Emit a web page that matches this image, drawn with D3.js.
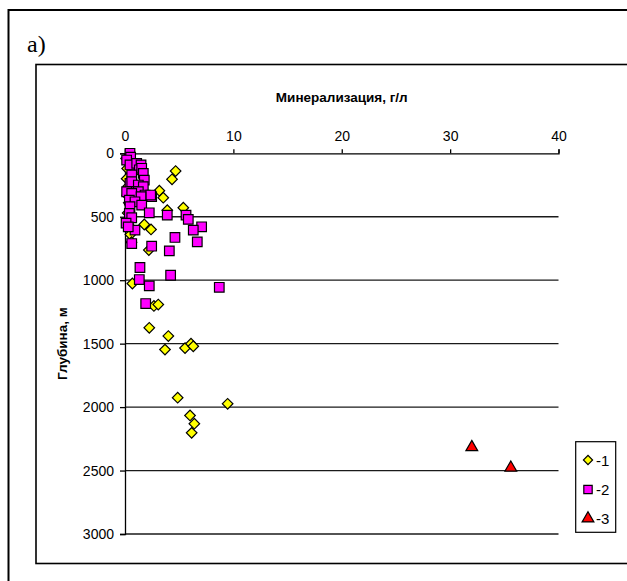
<!DOCTYPE html>
<html>
<head>
<meta charset="utf-8">
<script src="https://cdn.jsdelivr.net/npm/d3@7"></script>
<style>
  html, body { margin: 0; padding: 0; background: #fff; }
  svg { display: block; font-family: "Liberation Sans", Arial, sans-serif; }
</style>
</head>
<body>
<svg id="chart" width="627" height="581"></svg>
<script>
// Mineralization (g/l) and depth (m) for the three groups of samples
const mineral1 = [4.67, 4.34, 3.17, 3.53, 5.38, 3.9, 1.78, 2.4, 2.2, 0.68, 2.67, 3.07, 2.24, 4.0, 3.69, 5.54, 6.09, 6.3, 4.86, 9.47, 6.0, 6.4, 6.15,
                  0.1, 0.2, 0.15, 0.3, 0.2, 0.35, 0.25, 0.3, 0.5, 0.6];
const depth1   = [140, 205, 295, 350, 429, 448, 561, 600, 763, 1026, 1203, 1192, 1375, 1440, 1547, 1535, 1500, 1521, 1926, 1974, 2066, 2131, 2203,
                  40, 120, 200, 260, 330, 390, 470, 560, 640, 700];

const mineral2 = [0.46, 0.52, 0.15, 0.46, 1.08, 1.48, 1.32, 1.54, 0.62, 1.69, 1.78, 0.92, 0.46, 0.62, 1.23, 1.69, 0.77, 1.23, 0.15, 0.62,
                  1.85, 2.46, 2.37, 1.48, 0.4, 0.92, 1.54, 0.46, 0.4, 0.62, 0.92, 0.62, 2.24, 3.9, 5.63, 5.84, 7.07, 6.3,
                  6.67, 4.61, 4.09, 2.46, 1.38, 1.32, 2.24, 4.21, 1.91, 8.7, 0.1, 0.3];
const depth2   = [0, 30, 53, 92, 79, 92, 130, 118, 171, 158, 211, 250, 237, 224, 250, 263, 303, 303, 303, 316,
                  329, 342, 329, 342, 369, 382, 408, 421, 474, 508, 605, 711, 469, 487, 487, 521, 579, 605,
                  698, 663, 769, 732, 900, 995, 1045, 961, 1184, 1056, 550, 580];

const mineral3 = [32.0, 35.6];
const depth3   = [2316, 2478];

const xTicks = [0, 10, 20, 30, 40];
const yTicks = [0, 500, 1000, 1500, 2000, 2500, 3000];
const seriesNames = ["-1", "-2", "-3"];

const svg = d3.select("#chart");

// outer and inner frames (run off the right edge)
svg.append("rect").attr("x", 8.5).attr("y", 10).attr("width", 640).attr("height", 600)
  .attr("fill", "none").attr("stroke", "#000").attr("stroke-width", 2);
svg.append("rect").attr("x", 36).attr("y", 64.5).attr("width", 620).attr("height", 499)
  .attr("fill", "none").attr("stroke", "#000").attr("stroke-width", 1.6);

svg.append("text").attr("x", 27).attr("y", 52)
  .style("font-family", "'Liberation Serif', 'Times New Roman', serif")
  .style("font-size", "24px").text("a)");

const x = d3.scaleLinear().domain([0, 40]).range([125, 558.5]);
const y = d3.scaleLinear().domain([0, 3000]).range([153.3, 534]);

// horizontal gridlines
svg.append("g").selectAll("line").data(yTicks.slice(1)).join("line")
  .attr("x1", x(0)).attr("x2", x(40))
  .attr("y1", d => y(d)).attr("y2", d => y(d))
  .attr("stroke", "#1a1a1a").attr("stroke-width", 1.3);

// top axis
const xAxis = svg.append("g").attr("transform", `translate(0,${y(0)})`)
  .call(d3.axisTop(x).tickValues(xTicks).tickSize(4).tickPadding(8).tickFormat(d3.format("d")));
xAxis.select(".domain").attr("stroke", "#000").attr("stroke-width", 1.3);
xAxis.selectAll(".tick line").attr("stroke", "#000").attr("stroke-width", 1.3);
xAxis.selectAll("text").style("font-size", "14px").attr("fill", "#000");

// left axis
const yAxis = svg.append("g").attr("transform", `translate(${x(0)},0)`)
  .call(d3.axisLeft(y).tickValues(yTicks).tickSize(5).tickPadding(6).tickFormat(d3.format("d")));
yAxis.select(".domain").attr("stroke", "#000").attr("stroke-width", 1.3);
yAxis.selectAll(".tick line").attr("stroke", "#000").attr("stroke-width", 1.3);
yAxis.selectAll("text").style("font-size", "14px").attr("fill", "#000");

// axis titles
svg.append("text").attr("x", (x(0) + x(40)) / 2).attr("y", 102)
  .attr("text-anchor", "middle").style("font-size", "13.5px").style("font-weight", "bold")
  .text("Минерализация, г/л");
svg.append("text").attr("transform", `translate(67,${(y(0) + y(3000)) / 2}) rotate(-90)`)
  .attr("text-anchor", "middle").style("font-size", "13.5px").style("font-weight", "bold")
  .text("Глубина, м");

// markers
const diamond = d3.symbol().type(d3.symbolSquare).size(56);
const square = d3.symbol().type(d3.symbolSquare).size(92);
const triangle = d3.symbol().type(d3.symbolTriangle).size(60);

const s1 = mineral1.map((v, i) => [v, depth1[i]]);
const s2 = mineral2.map((v, i) => [v, depth2[i]]);
const s3 = mineral3.map((v, i) => [v, depth3[i]]);

svg.append("g").selectAll("path").data(s1).join("path")
  .attr("d", diamond)
  .attr("transform", d => `translate(${x(d[0])},${y(d[1])}) rotate(45)`)
  .attr("fill", "#ffff00").attr("stroke", "#000").attr("stroke-width", 1.2);
svg.append("g").selectAll("path").data(s2).join("path")
  .attr("d", square)
  .attr("transform", d => `translate(${x(d[0])},${y(d[1])})`)
  .attr("fill", "#ff00ff").attr("stroke", "#000").attr("stroke-width", 1.2);
svg.append("g").selectAll("path").data(s3).join("path")
  .attr("d", triangle)
  .attr("transform", d => `translate(${x(d[0])},${y(d[1])})`)
  .attr("fill", "#ff0000").attr("stroke", "#000").attr("stroke-width", 1.2);

// legend
const lg = svg.append("g");
lg.append("rect").attr("x", 575.7).attr("y", 441.7).attr("width", 40).attr("height", 90.6)
  .attr("fill", "#fff").attr("stroke", "#000").attr("stroke-width", 1.2);
const legendSymbols = [
  { sym: d3.symbol().type(d3.symbolSquare).size(42), rot: 45, fill: "#ffff00", cy: 460 },
  { sym: d3.symbol().type(d3.symbolSquare).size(70), rot: 0, fill: "#ff00ff", cy: 489.5 },
  { sym: triangle, rot: 0, fill: "#ff0000", cy: 518.5 }
];
legendSymbols.forEach((s, i) => {
  lg.append("path").attr("d", s.sym)
    .attr("transform", `translate(588,${s.cy}) rotate(${s.rot})`)
    .attr("fill", s.fill).attr("stroke", "#000").attr("stroke-width", 1.2);
  lg.append("text").attr("x", 596).attr("y", s.cy + 5.5)
    .style("font-size", "15px").text(seriesNames[i]);
});
</script>
</body>
</html>
